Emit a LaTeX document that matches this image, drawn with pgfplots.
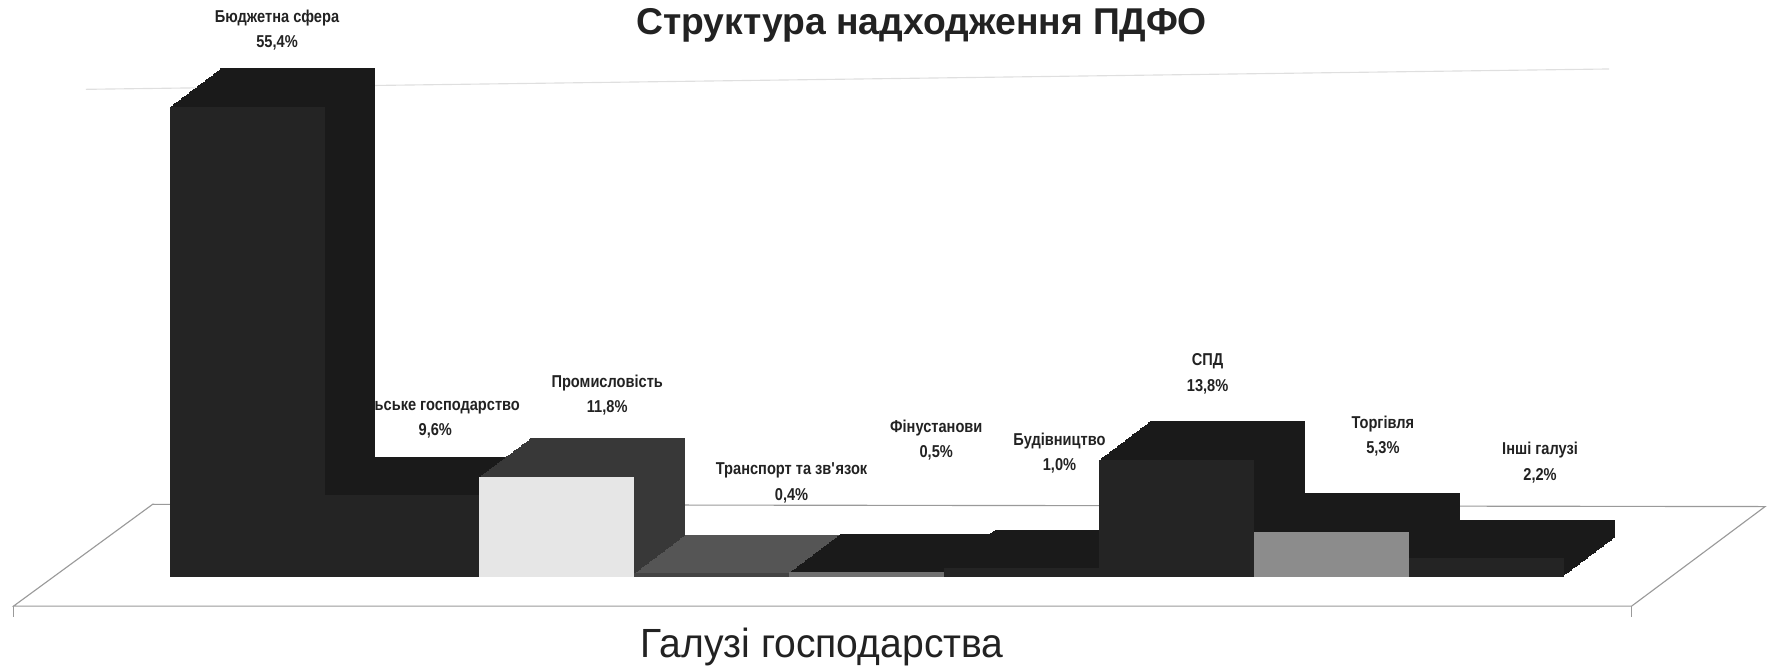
\documentclass[border=0pt]{standalone}
\usepackage{fontspec}
\setmainfont{Liberation Sans}
\newfontfamily\lblfont[FakeStretch=0.85]{Liberation Sans}
\newfontfamily\axlblfont[FakeStretch=0.96]{Liberation Sans}
\usepackage{pgfplots}
\pgfplotsset{compat=1.18}
\definecolor{barfront}{HTML}{242424}
\definecolor{barside}{HTML}{1A1A1A}
\definecolor{prside}{HTML}{383838}
\definecolor{prfront}{HTML}{E6E6E6}
\definecolor{trside}{HTML}{555555}
\definecolor{trfront}{HTML}{444444}
\definecolor{finfront}{HTML}{707070}
\definecolor{torgfront}{HTML}{8C8C8C}
\definecolor{txt}{HTML}{222222}
\definecolor{floorc}{HTML}{9A9A9A}
% one 3D bar: index, value, side colour, front style
\newcommand\dbar[4]{%
  \pgfplotsinvokeforeach{32,31,...,1}{%
    \addplot[ybar, bar width=68.5pt, bar shift=0pt, fill=#3, draw=none,
      xshift=##1*0.703125pt, yshift=##1*0.53125pt] coordinates {(#1,#2)};
  }%
  \addplot[ybar, bar width=68.5pt, bar shift=0pt, draw=none, #4] coordinates {(#1,#2)};
}
\begin{document}
\begin{tikzpicture}
\path[use as bounding box] (0,0) rectangle (784pt,295pt);
% floor (behind bars)
\draw[floorc, line width=0.5pt] (6pt,27pt) -- (721.5pt,27pt) -- (780.5pt,71pt) -- (67.5pt,72pt) -- cycle;
\draw[floorc, line width=0.4pt] (6pt,27pt) -- (6pt,22pt);
\draw[floorc, line width=0.4pt] (721.5pt,27pt) -- (721.5pt,22pt);
% faint back grid line
\draw[gray!25, line width=0.5pt] (38pt,255.5pt) -- (711.5pt,264.5pt);
% data labels (behind bars)
\begin{scope}[every node/.style={align=center, text=txt, font=\lblfont\bfseries\fontsize{7.6}{11.2}\selectfont}]
\node at (122.5pt,281.75pt) {Бюджетна сфера\\55,4\%};
\node at (192.5pt,110.25pt) {Сільське господарство\\9,6\%};
\node at (268.5pt,120.25pt) {Промисловість\\11,8\%};
\node at (350pt,81.5pt) {Транспорт та зв\textquotesingle язок\\0,4\%};
\node at (414pt,100.5pt) {Фінустанови\\0,5\%};
\node at (468.5pt,94.5pt) {Будівництво\\1,0\%};
\node at (534pt,129.75pt) {СПД\\13,8\%};
\node at (611.5pt,102.25pt) {Торгівля\\5,3\%};
\node at (681pt,90.5pt) {Інші галузі\\2,2\%};
\end{scope}
\begin{axis}[at={(75pt,40pt)}, anchor=south west, scale only axis,
  width=616.5pt, height=225pt, xmin=-0.5, xmax=8.5, ymin=0, ymax=60,
  hide axis, clip=false, ybar]
\dbar{0}{55.4}{barside}{fill=barfront}
\dbar{1}{9.6}{barside}{fill=barfront}
\dbar{2}{11.8}{prside}{fill=prfront}
\dbar{3}{0.4}{trside}{fill=trfront}
\dbar{4}{0.5}{barside}{fill=finfront}
\dbar{5}{1.0}{barside}{fill=barfront}
\dbar{6}{13.8}{barside}{fill=barfront}
\dbar{7}{5.3}{barside}{fill=torgfront}
\dbar{8}{2.2}{barside}{fill=barfront}
\end{axis}
\node[text=txt, font=\bfseries\fontsize{16.5}{19}\selectfont] at (407.5pt,284pt) {Структура надходження ПДФО};
\node[text=txt, font=\axlblfont\fontsize{18}{21}\selectfont] at (363.5pt,9pt) {Галузі господарства};
\end{tikzpicture}
\end{document}
